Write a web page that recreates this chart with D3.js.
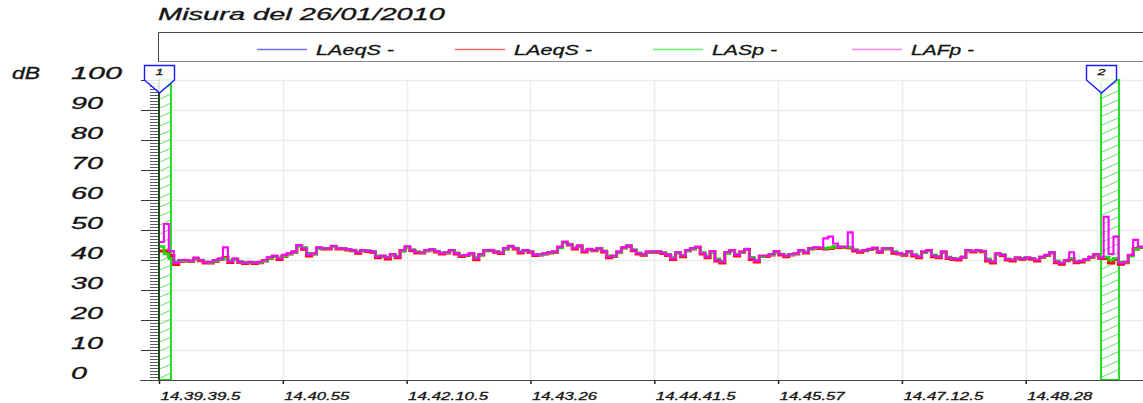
<!DOCTYPE html>
<html><head><meta charset="utf-8">
<script src="https://cdn.jsdelivr.net/npm/d3@7"></script>
<style>
html,body{margin:0;padding:0;background:#fff;}
svg{display:block;font-family:"Liberation Sans",Arial,sans-serif;}
svg text{stroke:#141414;stroke-width:0.3px;}
</style></head>
<body>
<svg id="c" width="1143" height="403"></svg>
<script>
// ---- data (time step 3 s, t = 0..600 s from 14.39.39.5) ----
const stepSec = 3;
const xTickSecs = [0, 75.5, 151, 226.5, 302, 377.5, 453, 528.5];
const xTickLabels = ["14.39.39.5","14.40.55","14.42.10.5","14.43.26","14.44.41.5","14.45.57","14.47.12.5","14.48.28"];
const yTicks = [0,10,20,30,40,50,60,70,80,90,100];
const seriesNames = ["LAeqS -","LAeqS -","LASp -","LAFp -"];
const markerTimes = [0, 574.4];
const markerEnds = [7.3, 585.4];
const markerLabels = ["1","2"];

const laeqS = [
43,43,41.5,38.5,39.6,39.8,39.5,40.4,39.8,39,
39,39.6,40.2,40.8,39.2,40.2,39.3,38.9,39.1,38.9,
39.1,39.7,40.6,41.2,40.2,41.3,42,42.6,44.8,43.6,
41.4,42,44,43.7,43.7,44.5,43.7,43.7,43.4,43.1,
42.3,43.1,42.9,42.6,40.8,41.2,40.4,41.7,40.8,43.1,
44.2,43.1,42.4,42.4,43.1,43.4,42.7,42,42.4,43.1,
42,41.2,41.5,42,40.1,41.7,43.1,43.1,42.6,42.2,
43.7,44.5,43.7,42.4,43.1,42.6,41.5,41.7,42,42.4,
42.6,44.2,45.9,45,43.7,44.6,42.7,43.5,43.1,43.7,
42.7,40.8,41.2,42.6,44,44.6,43.1,42,41.6,42.6,
42.6,42.6,42.2,41.5,40.2,42.4,41.1,43.1,43.7,44.2,
42,40.8,42.7,39.7,39,42.4,43.1,41.4,42.6,43.5,
40.2,39.4,41.2,41.2,41.7,42.7,41.7,41.1,41.7,42,
43.1,42.4,43.7,44,43.9,43.7,43.9,44.3,44.2,44.2,
44,43,42.6,43.1,43.5,43.9,42.6,43.7,43.7,42.3,
42,41.6,42.7,41.4,40.8,42.6,43.1,41.1,40.8,42.6,
40.5,40.2,40,40.9,43.1,42.7,43.1,42.8,39.7,39,
42,41.5,40,39.7,40.6,40.3,40.6,40.3,39.7,40.9,
41.5,42.4,39.1,38.6,39.8,40.3,39.1,39.4,40.1,40.9,
41.7,40.6,40.5,39,40.2,38.6,39.1,41.5,43.7,44.2,
44.2];

const lasp = [
44.5,42,40.5,39.4,39.8,40,39.6,40.5,40,39.4,
39.2,39.8,40.3,40.6,39.8,40.2,39.6,39.2,39.2,39.2,
39.2,39.8,40.6,41.2,40.8,41.4,42,42.6,44.6,44.2,
42.2,42,43.8,44,43.9,44.4,44,43.9,43.6,43.3,
42.8,43.1,43.1,42.9,41.4,41.3,41,41.6,41.3,42.9,
44,43.5,42.8,42.6,43.1,43.6,43,42.4,42.5,43.1,
42.4,41.6,41.6,42,40.9,41.6,43,43.3,42.9,42.5,
43.6,44.5,44,42.8,43.1,42.9,41.9,41.8,42.1,42.5,
42.7,44,45.8,45.3,44.1,44.6,43.1,43.5,43.3,43.8,
43.1,41.4,41.3,42.5,44,44.7,43.5,42.4,41.9,42.6,
42.8,42.8,42.5,41.9,40.8,42.3,41.6,43,43.8,44.2,
42.5,41.3,42.6,40.4,39.6,42.2,43.2,41.9,42.6,43.5,
40.9,39.9,41.1,41.4,41.8,42.7,42,41.5,41.8,42.1,
43,42.7,43.7,44.1,44.1,43.9,44.1,44.5,44.4,44.3,
44.3,43.5,43,43.2,43.6,44,43,43.7,43.8,42.8,
42.3,41.9,42.7,41.8,41.3,42.5,43.1,41.7,41.2,42.6,
41,40.6,40.4,40.9,43,43,43.2,43,40.4,39.6,
41.9,41.8,40.4,40.1,40.7,40.6,40.7,40.6,40.1,40.9,
41.6,42.4,39.7,39.1,39.9,40.6,39.6,39.7,40.2,40.9,
41.7,41,41,40,40.6,39.3,39.3,41.3,43.6,44.3,
44.5];

const lafp = [
46,52,43,39,40,40,39.8,40.8,40,39.2,
39.4,40,40.5,44.2,39.4,40.5,39.4,39.1,39.4,39.1,
39.4,40,40.9,41.4,40.5,41.7,42.2,42.8,45,43.9,
41.7,42.2,44.2,43.9,43.9,44.7,43.9,43.9,43.6,43.3,
42.6,43.3,43.1,42.8,41.1,41.4,40.8,41.9,41.1,43.3,
44.6,43.3,42.6,42.6,43.3,43.6,42.9,42.2,42.6,43.3,
42.2,41.4,41.7,42.2,40.5,41.9,43.3,43.3,42.8,42.4,
43.9,44.7,43.9,42.6,43.3,42.8,41.7,41.9,42.2,42.6,
42.8,44.4,46.1,45.2,43.9,44.8,42.9,43.7,43.3,43.9,
42.9,41.1,41.4,42.8,44.2,44.8,43.3,42.2,41.9,42.8,
42.8,42.8,42.4,41.7,40.5,42.6,41.4,43.3,43.9,44.4,
42.2,41.1,42.9,40,39.4,42.6,43.3,41.7,42.8,43.7,
40.5,39.7,41.4,41.4,41.9,42.9,41.9,41.4,41.9,42.2,
43.3,42.6,43.9,44.2,44.1,47.2,47.8,45.5,44.4,44.4,
49.2,43.3,42.9,43.3,43.7,44.1,42.8,43.9,43.9,42.6,
42.2,41.9,42.9,41.7,41.1,42.8,43.3,41.4,41.1,42.8,
40.8,40.5,40.3,41.1,43.3,42.9,43.3,43,40,39.4,
42.2,41.7,40.2,40,40.8,40.5,40.8,40.5,40,41.1,
41.7,42.6,39.4,38.9,40,42.6,39.4,39.7,40.3,41.1,
41.9,40.8,54.4,42,47.8,38.9,39.4,41.7,46.7,44.4,
44.4];

// ---- drawing ----
const svg = d3.select("#c");
const W = 1143;
const x = d3.scaleLinear().domain([0, 600]).range([159, 1143]);
const y = d3.scaleLinear().domain([0, 100]).range([380, 80]);
const txtColor = "#141414";

function stretched(sel, w) {
  return sel.attr("textLength", w).attr("lengthAdjust", "spacingAndGlyphs");
}

const series = [
  {data: laeqS, color: "#3030ff", legend: "#7070ff", w: 2.2},
  {data: laeqS, color: "#ff0a0a", legend: "#ff6464", w: 3.2},
  {data: lasp,  color: "#10dc10", legend: "#66f066", w: 2.6},
  {data: lafp,  color: "#ff00ff", legend: "#ff84f0", w: 2.1}
];

// title
stretched(svg.append("text").attr("x", 158).attr("y", 20)
  .attr("font-style", "italic").attr("font-size", 16.5).attr("fill", txtColor)
  .text("Misura del 26/01/2010"), 287);

// legend box
svg.append("line").attr("x1", 158.5).attr("x2", W).attr("y1", 32.5).attr("y2", 32.5).attr("stroke", "#444");
svg.append("line").attr("x1", 158.5).attr("x2", 158.5).attr("y1", 32.5).attr("y2", 62).attr("stroke", "#444");
svg.append("line").attr("x1", 158.5).attr("x2", W).attr("y1", 61.5).attr("y2", 61.5).attr("stroke", "#8a8a8a");
const legendX = [257, 455, 653, 852];
const legendTextW = [78, 78, 65, 63];
series.forEach((s, i) => {
  const g = svg.append("g").attr("transform", `translate(${legendX[i]},0)`);
  g.append("line").attr("x1", 0).attr("x2", 50).attr("y1", 49.5).attr("y2", 49.5)
    .attr("stroke", s.legend).attr("stroke-width", 1.5);
  stretched(g.append("text").attr("x", 59).attr("y", 55).attr("font-style", "italic")
    .attr("font-size", 14).attr("fill", txtColor).text(seriesNames[i]), legendTextW[i]);
});

// grid
const grid = svg.append("g");
grid.selectAll("line.h").data(yTicks.filter(v => v > 0)).join("line")
  .attr("x1", 159).attr("x2", W).attr("y1", d => Math.round(y(d)) + 0.5).attr("y2", d => Math.round(y(d)) + 0.5)
  .attr("stroke", "#ececec").attr("stroke-width", 1.5);
grid.selectAll("line.v").data(xTickSecs.slice(1)).join("line")
  .attr("x1", d => Math.round(x(d)) + 0.5).attr("x2", d => Math.round(x(d)) + 0.5).attr("y1", 80).attr("y2", 380)
  .attr("stroke", "#ececec").attr("stroke-width", 1.5);

// hatch pattern
const defs = svg.append("defs");
const pat = defs.append("pattern").attr("id", "hatch").attr("patternUnits", "userSpaceOnUse")
  .attr("width", 20).attr("height", 9);
pat.append("line").attr("x1", 0).attr("y1", 9).attr("x2", 20).attr("y2", 0)
  .attr("stroke", "#5ee05e").attr("stroke-width", 1);
defs.append("clipPath").attr("id", "plotclip").append("rect")
  .attr("x", 159).attr("y", 70).attr("width", W - 159).attr("height", 311);

// marker bands
markerTimes.forEach((t, i) => {
  const x0 = x(t), x1 = x(markerEnds[i]);
  svg.append("rect").attr("x", x0).attr("y", 80).attr("width", x1 - x0).attr("height", 300)
    .attr("fill", "url(#hatch)").attr("stroke", "#22dd22").attr("stroke-width", 2);
});

// lines
const line = d3.line().x((d, i) => x(i * stepSec)).y(d => y(d)).curve(d3.curveStepAfter);
const lg = svg.append("g").attr("clip-path", "url(#plotclip)");
series.forEach(s => {
  lg.append("path").attr("d", line(s.data)).attr("fill", "none")
    .attr("stroke", s.color).attr("stroke-width", s.w).attr("stroke-linejoin", "miter");
});

// y axis: minor ticks, major ticks
const yMinor = d3.axisLeft(y).tickValues(d3.range(0, 101, 1)).tickSize(9).tickFormat("");
const gMin = svg.append("g").attr("transform", "translate(159,0)").call(yMinor);
gMin.select(".domain").remove();
gMin.selectAll(".tick line").attr("stroke", "#333").attr("stroke-width", 0.8);
const yMajor = d3.axisLeft(y).tickValues(yTicks).tickSize(18).tickFormat("");
const gMaj = svg.append("g").attr("transform", "translate(159,0)").call(yMajor);
gMaj.select(".domain").remove();
gMaj.selectAll(".tick line").attr("stroke", "#333");
svg.append("line").attr("x1", 159).attr("x2", 159).attr("y1", 80).attr("y2", 381)
  .attr("stroke", "#222").attr("stroke-width", 1.5);

// y labels
const yLabW = {1: 16, 2: 32, 3: 51};
svg.selectAll("text.ylab").data(yTicks).join("text")
  .attr("x", 71).attr("y", d => y(d) - 1)
  .attr("font-style", "italic").attr("font-size", 16).attr("fill", txtColor)
  .attr("textLength", d => yLabW[String(d).length]).attr("lengthAdjust", "spacingAndGlyphs")
  .text(d => d);
stretched(svg.append("text").attr("x", 12).attr("y", 79).attr("font-style", "italic")
  .attr("font-size", 16).attr("fill", txtColor).text("dB"), 28);

// x axis
const xAxis = d3.axisBottom(x).tickValues(xTickSecs).tickSize(4).tickFormat("");
const gx = svg.append("g").attr("transform", "translate(0,380)").call(xAxis);
gx.select(".domain").remove();
gx.selectAll(".tick line").attr("stroke", "#222").attr("stroke-width", 1.5);
svg.append("line").attr("x1", 140).attr("x2", W).attr("y1", 380.5).attr("y2", 380.5)
  .attr("stroke", "#444").attr("stroke-width", 1.2);
svg.selectAll("text.xlab").data(xTickSecs).join("text")
  .attr("x", d => x(d) + 1.5).attr("y", 400)
  .attr("font-style", "italic").attr("font-size", 11.5).attr("fill", txtColor)
  .attr("textLength", (d, i) => xTickLabels[i].length === 10 ? 80 : 65)
  .attr("lengthAdjust", "spacingAndGlyphs")
  .text((d, i) => xTickLabels[i]);

// marker flags
markerTimes.forEach((t, i) => {
  const cx = Math.round(x(t)) + 0.5;
  svg.append("path")
    .attr("d", `M${cx - 15},65.5 H${cx + 15} V80 L${cx},93 L${cx - 15},80 Z`)
    .attr("fill", "#fff").attr("fill-opacity", 0.85).attr("stroke", "#1a1aff").attr("stroke-width", 1.4);
  stretched(svg.append("text").attr("x", cx - 4).attr("y", 74.5)
    .attr("font-style", "italic").attr("font-size", 9).attr("fill", "#222").text(markerLabels[i]), 8);
});
</script>
</body></html>
